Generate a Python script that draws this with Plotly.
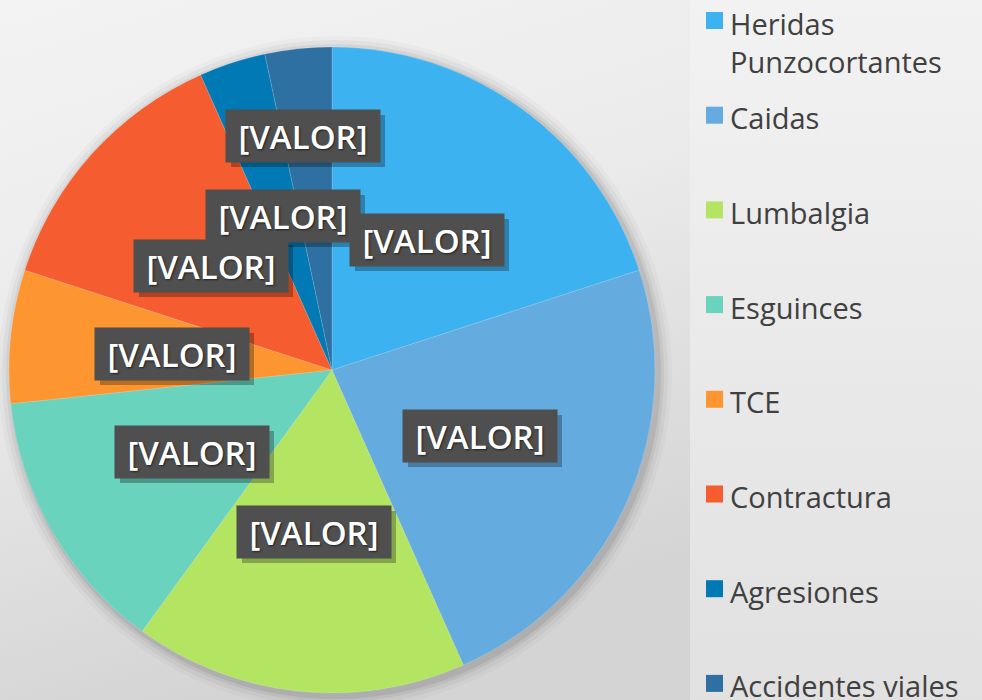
import base64
import plotly.graph_objects as go

# data
categorias = ["Heridas Punzocortantes", "Caidas", "Lumbalgia", "Esguinces",
              "TCE", "Contractura", "Agresiones", "Accidentes viales"]
casos = [6, 7, 5, 4, 2, 4, 1, 1]
colores = ["#3db2f1", "#64abdf", "#b3e563", "#69d3bd",
           "#fd9630", "#f55c2f", "#0079b5", "#2e70a2"]
etiquetas = ["[VALOR]"] * len(categorias)
leyenda = ["Heridas<br>Punzocortantes", "Caidas", "Lumbalgia", "Esguinces",
           "TCE", "Contractura", "Agresiones", "Accidentes viales"]

W, H = 982, 700
cx, cy, r = 332, 370, 323


def px(x, y):
    return x / W, 1 - y / H


# label boxes, placed like in the source slide (pixel centres)
pos_etiquetas = [(427, 240), (480, 436), (314, 532), (192, 452),
                 (172, 354), (211, 266), (283, 216), (303, 136)]

fondo_svg = f"""<svg xmlns='http://www.w3.org/2000/svg' width='{W}' height='{H}'>
<defs>
<linearGradient id='a' x1='0' y1='0' x2='0.3' y2='1'>
<stop offset='0' stop-color='#f3f3f3'/><stop offset='0.45' stop-color='#ebebeb'/><stop offset='1' stop-color='#d4d4d4'/>
</linearGradient>
<linearGradient id='b' x1='0' y1='0' x2='0' y2='1'>
<stop offset='0' stop-color='#f2f2f2'/><stop offset='1' stop-color='#e1e1e1'/>
</linearGradient>
</defs>
<rect x='0' y='0' width='690' height='{H}' fill='url(#a)'/>
<rect x='690' y='0' width='{W-690}' height='{H}' fill='url(#b)'/>
</svg>"""
fondo = "data:image/svg+xml;base64," + base64.b64encode(fondo_svg.encode()).decode()

fig = go.Figure(go.Pie(
    labels=categorias,
    values=casos,
    sort=False,
    direction="clockwise",
    rotation=0,
    marker=dict(colors=colores, line=dict(color="rgba(255,255,255,0.25)", width=0.6)),
    textinfo="none",
    hoverinfo="label+value+percent",
    showlegend=False,
    domain=dict(x=[(cx - r) / W, (cx + r) / W], y=[(H - cy - r) / H, (H - cy + r) / H]),
))

shapes = []
# soft shadow round the pie
for k, a in [(14, 0.025), (10, 0.035), (6, 0.05), (3, 0.07)]:
    x0, y0 = px(cx - r - k + 3, cy - r - k + 3)
    x1, y1 = px(cx + r + k + 3, cy + r + k + 3)
    shapes.append(dict(type="circle", xref="paper", yref="paper", x0=x0, x1=x1, y0=y1, y1=y0,
                       fillcolor=f"rgba(0,0,0,{a})", line=dict(width=0), layer="below"))

annotations = []
bw, bh = 154, 52
for txt, (x, y) in zip(etiquetas, pos_etiquetas):
    # drop shadow of the label box
    x0, y0 = px(x - bw / 2 + 5, y - bh / 2 + 5)
    x1, y1 = px(x + bw / 2 + 5, y + bh / 2 + 5)
    shapes.append(dict(type="rect", xref="paper", yref="paper", x0=x0, x1=x1, y0=y1, y1=y0,
                       fillcolor="rgba(0,0,0,0.28)", line=dict(width=0), layer="above"))
    ax, ay = px(x, y)
    annotations.append(dict(x=ax, y=ay, xref="paper", yref="paper", text=txt, showarrow=False,
                            xanchor="center", yanchor="middle", width=bw, height=bh, borderpad=0,
                            font=dict(family="Open Sans", size=33, color="white", weight=600,
                                      shadow="1px 1px 2px rgba(0,0,0,0.6)"),
                            bgcolor="#4f4f4f"))

# legend drawn by hand to keep the slide's spacing
for i, (nombre, col) in enumerate(zip(leyenda, colores)):
    yc = 20.5 + i * 94.7
    x0, y0 = px(706, yc - 8.5)
    x1, y1 = px(723, yc + 8.5)
    shapes.append(dict(type="rect", xref="paper", yref="paper", x0=x0, x1=x1, y0=y1, y1=y0,
                       fillcolor=col, line=dict(width=0)))
    dos = "<br>" in nombre
    tx, ty = px(728, yc + 2.5)
    annotations.append(dict(x=tx, y=ty, xref="paper", yref="paper", text=nombre, showarrow=False,
                            xanchor="left", yanchor="top" if dos else "middle",
                            yshift=21 if dos else 0,
                            align="left",
                            font=dict(family="Open Sans", size=29, color="#404040")))

fig.update_layout(
    width=W, height=H,
    margin=dict(l=0, r=0, t=0, b=0),
    paper_bgcolor="#ececec",
    plot_bgcolor="rgba(0,0,0,0)",
    shapes=shapes,
    annotations=annotations,
    images=[dict(source=fondo, xref="paper", yref="paper", x=0, y=1, sizex=1, sizey=1,
                 sizing="stretch", xanchor="left", yanchor="top", layer="below")],
)

fig.write_html("out.html", config={"displayModeBar": False},
               post_script="document.body.style.margin='0';document.body.style.overflow='hidden';")
